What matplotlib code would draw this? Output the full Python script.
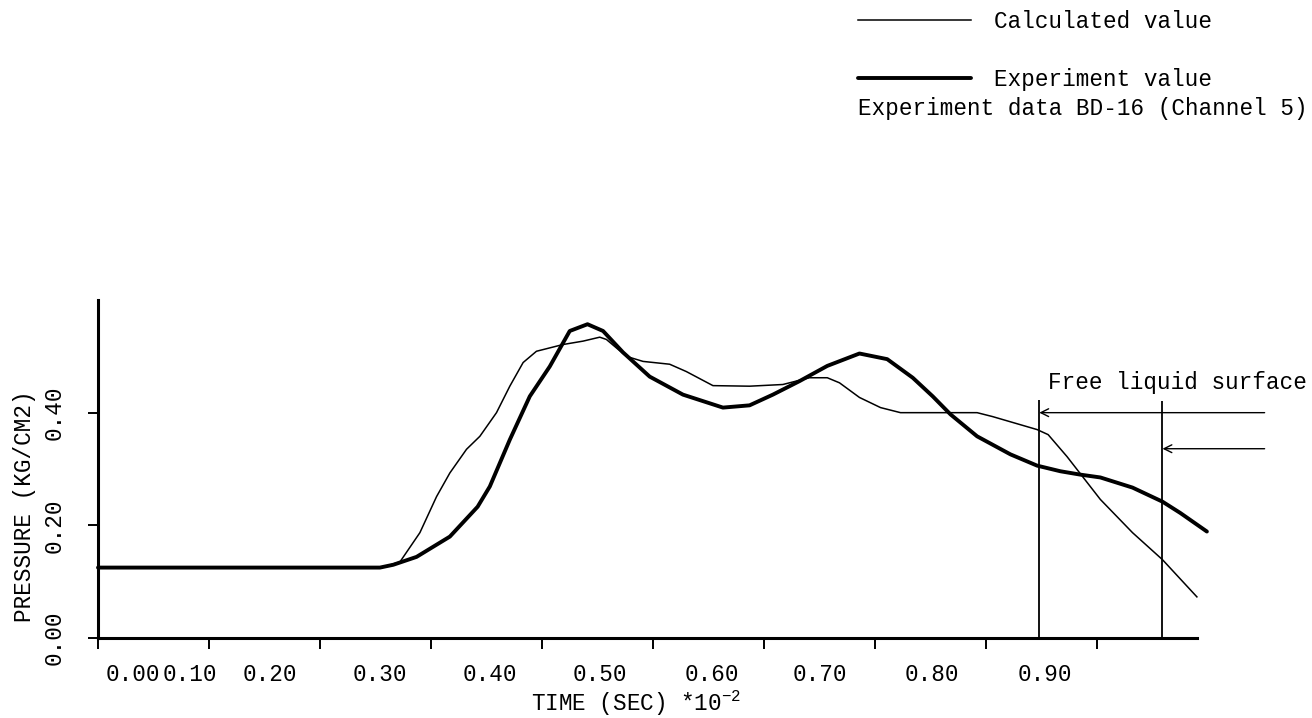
import numpy as np
import matplotlib
matplotlib.use('Agg')
import matplotlib.pyplot as plt

plt.rcParams['font.family'] = ['Liberation Mono', 'DejaVu Sans Mono']
plt.rcParams['mathtext.fontset'] = 'custom'
plt.rcParams['mathtext.rm'] = 'Liberation Mono'
plt.rcParams['mathtext.it'] = 'Liberation Mono'

# calculated pressure (thin line)
t_calc = [0.0, 0.255, 0.272, 0.290, 0.305, 0.317, 0.332, 0.344, 0.359, 0.371, 0.383,
          0.395, 0.419, 0.437, 0.452, 0.458, 0.476, 0.491, 0.515, 0.530, 0.554, 0.587,
          0.617, 0.641, 0.657, 0.668, 0.686, 0.705, 0.723, 0.792, 0.806, 0.846, 0.856,
          0.873, 0.903, 0.932, 0.959, 0.990]
p_calc = [0.125, 0.125, 0.135, 0.187, 0.251, 0.293, 0.335, 0.358, 0.400, 0.447, 0.489,
          0.509, 0.521, 0.527, 0.534, 0.530, 0.500, 0.491, 0.486, 0.473, 0.448, 0.447,
          0.450, 0.462, 0.462, 0.453, 0.427, 0.409, 0.400, 0.400, 0.393, 0.370, 0.361,
          0.322, 0.246, 0.187, 0.139, 0.073]

# experiment pressure (thick line)
t_exp = [0.0, 0.254, 0.266, 0.287, 0.317, 0.342, 0.353, 0.371, 0.389, 0.407, 0.425,
         0.441, 0.455, 0.473, 0.497, 0.527, 0.563, 0.587, 0.608, 0.632, 0.657, 0.686,
         0.711, 0.734, 0.752, 0.768, 0.792, 0.822, 0.846, 0.867, 0.885, 0.903, 0.932,
         0.959, 0.975, 0.999]
p_exp = [0.125, 0.125, 0.130, 0.144, 0.180, 0.233, 0.269, 0.352, 0.429, 0.482, 0.545,
         0.557, 0.545, 0.507, 0.464, 0.432, 0.409, 0.413, 0.432, 0.456, 0.483, 0.505,
         0.495, 0.462, 0.429, 0.397, 0.358, 0.326, 0.306, 0.296, 0.290, 0.285, 0.267,
         0.242, 0.222, 0.189]

# free liquid surface markers
surf_t = [0.848, 0.959]
surf_top = [0.423, 0.420]
arrow_p = [0.400, 0.336]

x_ticks = [0.0, 0.1, 0.2, 0.3, 0.4, 0.5, 0.6, 0.7, 0.8, 0.9]
x_label_pos = [0.031, 0.083, 0.155, 0.254, 0.353, 0.452, 0.553, 0.650, 0.751, 0.853]
x_labels = ['0.00', '0.10', '0.20', '0.30', '0.40', '0.50', '0.60', '0.70', '0.80', '0.90']
y_ticks = [0.0, 0.2, 0.4]
y_labels = ['0.00', '0.20', '0.40']

fs = 16.3

fig = plt.figure(figsize=(13.12, 7.18), dpi=100)
ax = fig.add_axes([98/1312, 1-638/718, 1110/1312, 338/718])

l1, = ax.plot(t_calc, p_calc, 'k-', lw=1.1, label='Calculated value')
l2, = ax.plot(t_exp, p_exp, 'k-', lw=2.8, solid_capstyle='round',
              solid_joinstyle='round', label='Experiment value', clip_on=False)

ax.vlines(surf_t, 0, surf_top, color='k', lw=1.3)
for t, p in zip(surf_t, arrow_p):
    ax.annotate('', xy=(t, p), xytext=(1.051, p), annotation_clip=False,
                arrowprops=dict(arrowstyle='->', lw=1.0, color='k',
                                shrinkA=0, shrinkB=0, mutation_scale=14))
ax.text(0.856, 0.454, 'Free liquid surface', fontsize=fs, va='center', ha='left')

ax.set_xlim(0, 1.0)
ax.set_ylim(0, 0.6)
for s in ['top', 'right']:
    ax.spines[s].set_visible(False)
ax.spines['left'].set_linewidth(2.2)
ax.spines['bottom'].set_linewidth(2.2)
ax.spines['bottom'].set_bounds(0, 0.99)

ax.set_xticks(x_ticks, minor=True)
ax.set_xticks(x_label_pos, x_labels)
ax.tick_params(axis='x', which='major', length=0, pad=18, labelsize=fs)
ax.tick_params(axis='x', which='minor', direction='out', length=8, width=1.4)
ax.set_yticks(y_ticks, y_labels)
ax.tick_params(axis='y', direction='out', length=7, width=1.4, pad=16,
               labelrotation=90, labelsize=fs)
for lab in ax.get_yticklabels():
    lab.set_va('center')

ax.set_xlabel('TIME (SEC) *10$^{-2}$', fontsize=fs)
ax.xaxis.set_label_coords(0.485, -0.15)
ax.set_ylabel('PRESSURE (KG/CM2)', fontsize=fs)
ax.yaxis.set_label_coords(-0.056, 0.39)

fig.legend(handles=[l1, l2], loc='upper left', bbox_to_anchor=(858/1312, 1-10/718),
           frameon=False, fontsize=fs, handlelength=5, handletextpad=1.0,
           labelspacing=1.55, borderpad=0, borderaxespad=0)
fig.text(858/1312, 1-108/718, 'Experiment data BD-16 (Channel 5)', fontsize=fs,
         va='center', ha='left')

plt.savefig('out.png', dpi=100)
